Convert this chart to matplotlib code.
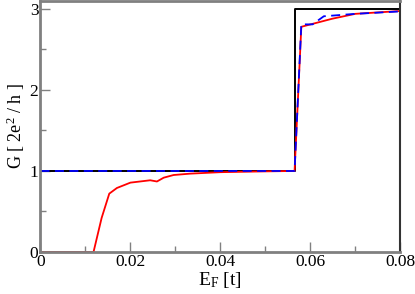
import numpy as np
import matplotlib.pyplot as plt
from matplotlib.ticker import MultipleLocator

plt.rcParams['font.family'] = ['Liberation Serif', 'DejaVu Serif']
plt.rcParams['mathtext.fontset'] = 'custom'
plt.rcParams['mathtext.rm'] = 'Liberation Serif'
plt.rcParams['mathtext.it'] = 'Liberation Serif'

# black: ideal step
e_black = [0.0, 0.0565, 0.0565, 0.08]
g_black = [1.0, 1.0, 3.0, 3.0]

# blue dashed
e_blue = [0.0, 0.0565, 0.058, 0.0605, 0.063, 0.070, 0.08]
g_blue = [1.0, 1.0, 2.81, 2.81, 2.91, 2.94, 2.97]

# red
e_red = [0.0, 0.0118, 0.0136, 0.0153, 0.017, 0.020, 0.0244, 0.0259, 0.0274,
         0.0296, 0.0333, 0.040, 0.050, 0.0565, 0.058, 0.0649, 0.070, 0.08]
g_red = [0.0, 0.0, 0.42, 0.72, 0.79, 0.856, 0.885, 0.87, 0.917,
         0.95, 0.967, 0.985, 0.995, 1.0, 2.78, 2.88, 2.94, 2.975]

fig = plt.figure(figsize=(4.15, 2.94), dpi=100)
ax = fig.add_axes([0.0975, 0.143, 0.867, 0.854])

ax.plot(e_black, g_black, color='black', lw=1.4)
ax.plot(e_red, g_red, color='red', lw=1.3)
ax.plot(e_blue, g_blue, color='blue', lw=1.3, ls=(0, (5, 3)))

ax.set_xlim(0, 0.08)
ax.set_ylim(0, 3.1)
ax.xaxis.set_minor_locator(MultipleLocator(0.01))
ax.yaxis.set_minor_locator(MultipleLocator(0.5))
ax.set_xticks([0, 0.02, 0.04, 0.06, 0.08])
ax.set_xticklabels(['0', '0.02', '0.04', '0.06', '0.08'])
ax.set_yticks([0, 1, 2, 3])
ax.set_yticklabels(['0', '1', '2', '3'])

for s in ax.spines.values():
    s.set_color('#808080')
    s.set_linewidth(2)
ax.spines['right'].set_color('#333333')
ax.spines['right'].set_linewidth(1.5)
ax.tick_params(which='both', direction='in', color='#808080', labelsize=12.5, pad=1.5)
ax.tick_params(which='major', length=7, width=1)
ax.tick_params(which='minor', length=4, width=1)

ax.set_xlabel(r'E$_\mathrm{F}$ [t]', fontsize=14, labelpad=0)
ax.set_ylabel(r'G [ 2e$^2$ / h ]', fontsize=13, labelpad=2)

fig.savefig('out.png', dpi=100)
